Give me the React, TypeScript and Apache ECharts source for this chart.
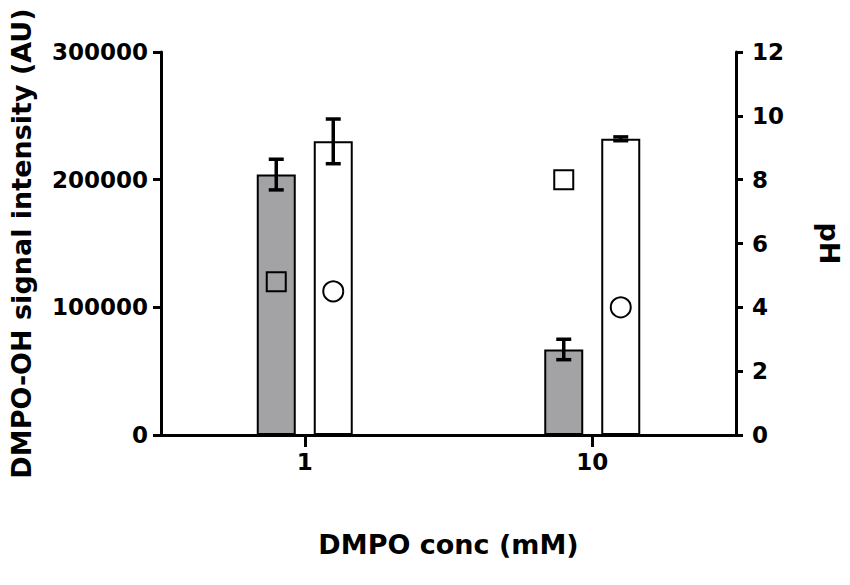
import React, { useEffect, useRef } from "react";
import * as echarts from "echarts";

const categories = ["1", "10"];
const graySignal = [204000, 67000];
const graySD = [12000, 8000];
const whiteSignal = [230000, 232000];
const whiteSD = [17500, 1500];
const squarePH = [4.8, 8.0];
const circlePH = [4.5, 4.0];

const FONT = "DejaVu Sans";
const BAR_W = 39;
const BAR_GAP = 18;
const OFFSET = (BAR_W + BAR_GAP) / 2;

function errorSeries(means: number[], sds: number[], offset: number) {
  return {
    type: "custom",
    z: 5,
    data: means.map((m, i) => [i, m, sds[i]]),
    renderItem: (params: any, api: any) => {
      const x = api.value(0);
      const m = api.value(1);
      const s = api.value(2);
      const c = api.coord([x, m]);
      const hi = api.coord([x, m + s]);
      const lo = api.coord([x, m - s]);
      const cx = c[0] + offset;
      const st = { stroke: "#000", lineWidth: 3.5 };
      return {
        type: "group",
        children: [
          { type: "line", shape: { x1: cx, y1: hi[1], x2: cx, y2: lo[1] }, style: st },
          { type: "line", shape: { x1: cx - 7.5, y1: hi[1], x2: cx + 7.5, y2: hi[1] }, style: st },
          { type: "line", shape: { x1: cx - 7.5, y1: lo[1], x2: cx + 7.5, y2: lo[1] }, style: st },
        ],
      };
    },
  };
}

export default function App() {
  const ref = useRef<HTMLDivElement>(null);
  useEffect(() => {
    if (!ref.current) return;
    const chart = echarts.init(ref.current, null, { renderer: "svg" });
    const axisLine = { show: true, lineStyle: { color: "#000", width: 3 } };
    const labelStyle = { color: "#000", fontFamily: FONT, fontWeight: "bold", fontSize: 23 };
    const nameStyle = { color: "#000", fontFamily: FONT, fontWeight: "bold", fontSize: 27 };
    chart.setOption({
      animation: false,
      backgroundColor: "#fff",
      grid: { left: 161, right: 114, top: 52, bottom: 150, containLabel: false, outerBoundsMode: "none" },
      xAxis: {
        type: "category",
        data: categories,
        axisLine,
        axisTick: { show: true, alignWithLabel: true, length: 12, lineStyle: { color: "#000", width: 3 } },
        axisLabel: { ...labelStyle, margin: 15 },
        name: "DMPO conc (mM)",
        nameLocation: "middle",
        nameGap: 96,
        nameTextStyle: nameStyle,
        splitLine: { show: false },
      },
      yAxis: [
        {
          type: "value",
          min: 0,
          max: 300000,
          interval: 100000,
          axisLine,
          axisTick: { show: true, length: 8, lineStyle: { color: "#000", width: 3 } },
          axisLabel: { ...labelStyle, margin: 13, formatter: (v: number) => String(v) },
          splitLine: { show: false },
          name: "DMPO-OH signal intensity (AU)",
          nameLocation: "middle",
          nameGap: 126,
          nameTextStyle: nameStyle,
        },
        {
          type: "value",
          position: "right",
          min: 0,
          max: 12,
          interval: 2,
          axisLine,
          axisTick: { show: true, length: 7, lineStyle: { color: "#000", width: 3 } },
          axisLabel: { ...labelStyle, margin: 16 },
          splitLine: { show: false },
          name: "pH",
          nameLocation: "middle",
          nameRotate: -90,
          nameGap: 80,
          nameTextStyle: nameStyle,
        },
      ],
      series: [
        {
          type: "bar",
          data: graySignal,
          barWidth: BAR_W,
          barGap: `${(BAR_GAP / BAR_W) * 100}%`,
          itemStyle: { color: "#a3a3a6", borderColor: "#000", borderWidth: 2 },
          z: 2,
        },
        {
          type: "bar",
          data: whiteSignal,
          barWidth: BAR_W,
          itemStyle: { color: "#fff", borderColor: "#000", borderWidth: 2 },
          z: 2,
        },
        errorSeries(graySignal, graySD, -OFFSET),
        errorSeries(whiteSignal, whiteSD, OFFSET),
        {
          type: "scatter",
          yAxisIndex: 1,
          data: squarePH,
          symbol: "rect",
          symbolSize: 19,
          symbolOffset: [-OFFSET, 0],
          itemStyle: { color: "rgba(0,0,0,0)", borderColor: "#000", borderWidth: 2, opacity: 1 },
          z: 6,
        },
        {
          type: "scatter",
          yAxisIndex: 1,
          data: circlePH,
          symbol: "circle",
          symbolSize: 20,
          symbolOffset: [OFFSET, 0],
          itemStyle: { color: "rgba(0,0,0,0)", borderColor: "#000", borderWidth: 2, opacity: 1 },
          z: 6,
        },
      ],
    });
    return () => chart.dispose();
  }, []);
  return (
    <div
      ref={ref}
      style={{ position: "fixed", left: 0, top: 0, width: 850, height: 585, background: "#fff" }}
    />
  );
}
